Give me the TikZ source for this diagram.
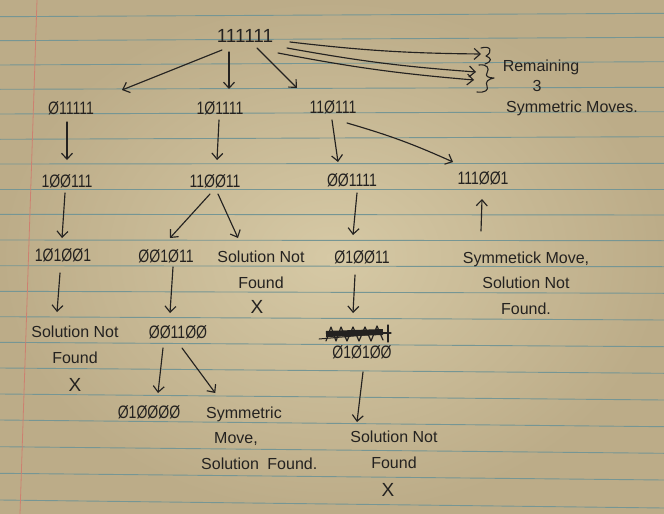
\documentclass[tikz,border=0pt]{standalone}
\usepackage{fontspec}
\setmainfont{Liberation Sans}
\newfontfamily\bitsfont[FakeStretch=0.78]{Liberation Sans}
\usetikzlibrary{arrows.meta,calc}
\definecolor{paperin}{RGB}{214,201,165}
\definecolor{paperout}{RGB}{188,172,136}
\definecolor{rulec}{RGB}{118,150,148}
\definecolor{marginc}{RGB}{205,128,112}
\definecolor{ink}{RGB}{36,34,32}
\begin{document}
\begin{tikzpicture}[x=1pt,y=-1pt,
  lbl/.style={text=ink, inner sep=1pt, font=\fontsize{16}{25.5}\selectfont, align=center},
  bits/.style={text=ink, inner sep=1pt, font=\bitsfont\fontsize{18}{20}\selectfont},
  xmark/.style={text=ink, inner sep=0pt, font=\fontsize{19}{20}\selectfont},
  arr/.style={draw=ink, line width=1.15pt, line cap=round, -{Straight Barb[length=6pt,width=11pt,line width=1.15pt]}},
  pen/.style={draw=ink, line width=1.1pt, line cap=round, line join=round}]
\useasboundingbox (0,0) rectangle (664,514);
\shade[inner color=paperin, outer color=paperout] (0,0) rectangle (664,514);
% ruled lines
\foreach \a/\b in {16.7/13.3, 40.7/37.3, 65/61.7, 89.3/87.3, 114/111.7, 139.3/136.7, 164/163.3, 189.3/189.3, 214.3/215, 240/240.7, 265.7/266.7, 291.3/293.3, 316.7/320, 342.3/346.7, 368/373.3, 394/400, 420/426.7, 446.7/453.3, 473.3/480, 500/508}
  \draw[rulec, line width=0.9pt] (0,\a) -- (664,\b);
\draw[marginc, line width=0.8pt] (37,0) -- (20,514);

% nodes
\node[bits, font=\fontsize{19}{20}\selectfont] (top) at (245,36) {111111};
\node[bits] (n1) at (71,108) {Ø11111};
\node[bits] (n2) at (220,108) {1Ø1111};
\node[bits] (n3) at (333,107) {11Ø111};
\node[bits] (m1) at (67,181) {1ØØ111};
\node[bits] (m2) at (215,181) {11ØØ11};
\node[bits] (m3) at (352,180) {ØØ1111};
\node[bits] (m4) at (483,178) {111ØØ1};
\node[bits] (r1) at (63,255) {1Ø1ØØ1};
\node[bits] (r2) at (166,256) {ØØ1Ø11};
\node[lbl] (r3) at (261,270) {Solution Not\\Found};
\node[xmark] (x1) at (257,307) {X};
\node[bits] (r4) at (362,257) {Ø1ØØ11};
\node[lbl] (r5) at (526,283) {Symmetick Move,\\Solution Not\\Found.};
\node[lbl] (s1) at (75,345) {Solution Not\\Found};
\node[xmark] (x2) at (75,385) {X};
\node[bits] (s2) at (178,332) {ØØ11ØØ};
\node[bits] (s3) at (362,352) {Ø1Ø1ØØ};
\node[bits] (t1) at (149,412) {Ø1ØØØØ};
\node[lbl, align=left, anchor=west] (t2) at (200,438) {\hspace*{5pt}Symmetric\\\hspace*{13pt}Move,\\Solution\hspace*{4pt} Found.};
\node[lbl] (u1) at (394,450) {Solution Not\\Found};
\node[xmark] (x3) at (388,490) {X};
\node[lbl] (rem) at (541,67) {Remaining};
\node[lbl] (three) at (537,86) {3};
\node[lbl] (sym) at (572,108) {Symmetric Moves.};

% brace tips
\coordinate (b1) at (481,54);
\coordinate (b2) at (476,72);
\coordinate (b3) at (474,80);

% braces
\draw[pen] (481,48) .. controls (491,45) and (493,52) .. (486,56) .. controls (491,58) and (493,61) .. (485,64);
\draw[pen] (479,65) .. controls (487,64) and (490,68) .. (487,73) .. controls (485,76) and (488,78) .. (494,78)
  .. controls (488,79) and (485,82) .. (487,86) .. controls (489,90) and (485,93) .. (477,92);

% scribbled-out string above s3
\draw[pen, line width=6pt, line cap=butt] (326,334) -- (383,332);
\draw[pen, line width=1pt] (319,339) -- (388,333);
\draw[pen, line width=1.2pt] (326,341) -- (331,327) -- (336,341) -- (341,327) -- (347,341) -- (353,327) -- (359,341) -- (365,327) -- (371,341) -- (377,326) -- (383,340);
\draw[pen, line width=1.2pt] (388,325) -- (388,342) (379,333) -- (391,333);

% arrows
\draw[arr] ($(top)+(-23,14)$) -- ($(n1)+(51,-18)$);
\draw[arr] ($(top)+(-16,16)$) -- ($(n2)+(9,-19)$);
\draw[arr] ($(top)+(12,12)$) -- ($(n3)+(-36,-19)$);
\draw[arr] ($(top)+(45,6)$) to[bend right=3] (b1);
\draw[arr] ($(top)+(42,12)$) to[bend right=3] (b2);
\draw[arr] ($(top)+(33,17)$) to[bend right=3] (b3);

\draw[arr] ($(n1)+(-4,14)$) -- ($(m1)+(0,-21)$);
\draw[arr] ($(n2)+(-1,12)$) -- ($(m2)+(2,-21)$);
\draw[arr] ($(n3)+(-1,13)$) -- ($(m3)+(-14,-18)$);
\draw[arr] ($(n3)+(14,16)$) to[bend left=4] ($(m4)+(-30,-16)$);

\draw[arr] ($(m1)+(-2,12)$) -- ($(r1)+(-1,-17)$);
\draw[arr] ($(m2)+(-5,13)$) -- ($(r2)+(4,-18)$);
\draw[arr] ($(m2)+(3,13)$) -- ($(r3)+(-23,-32)$);
\draw[arr] ($(m3)+(5,13)$) -- ($(r4)+(-9,-22)$);
\draw[arr] ($(r5)+(-45,-52)$) -- ($(m4)+(-1,21)$);

\draw[arr] ($(r1)+(-3,18)$) -- ($(s1)+(-18,-33)$);
\draw[arr] ($(r2)+(7,11)$) -- ($(s2)+(-8,-19)$);
\draw[arr] ($(r4)+(-7,18)$) -- ($(s3)+(-9,-39)$);

\draw[arr] ($(s2)+(-15,16)$) -- ($(t1)+(9,-19)$);
\draw[arr] ($(s2)+(4,16)$) -- ($(t2)+(-44,-45)$);
\draw[arr] ($(s3)+(1,20)$) -- ($(u1)+(-37,-28)$);
\end{tikzpicture}
\end{document}
